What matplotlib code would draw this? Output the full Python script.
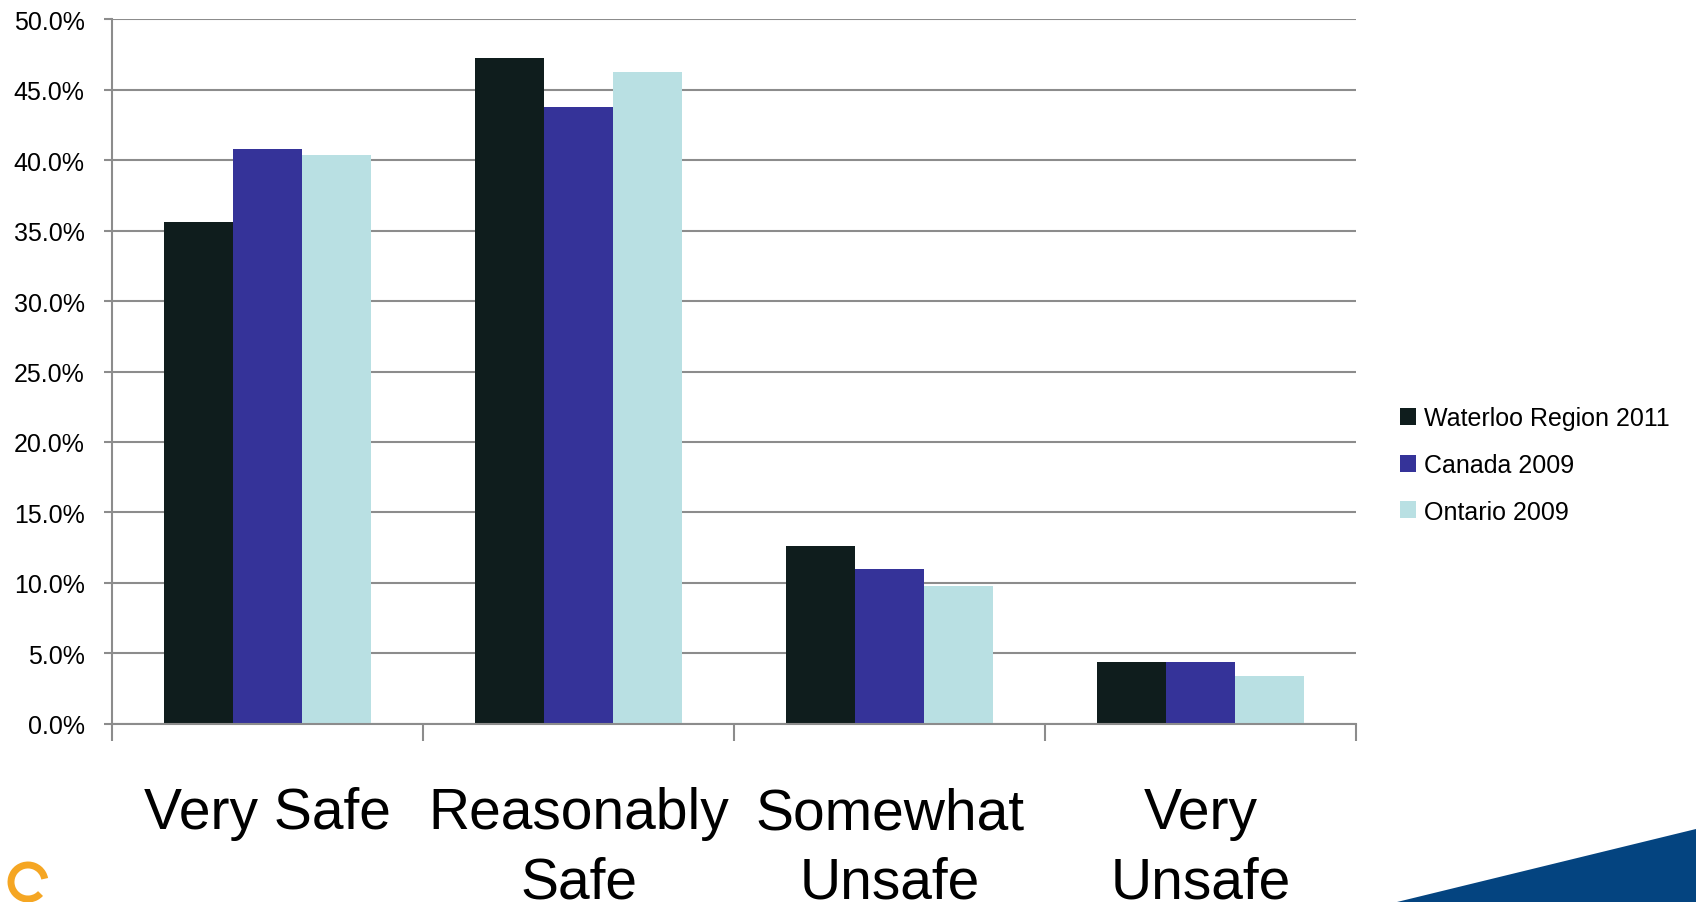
import numpy as np
import matplotlib.pyplot as plt
from matplotlib.patches import Polygon, Arc

plt.rcParams['font.family'] = ['Liberation Sans', 'DejaVu Sans']

# survey answers, percent of respondents
categories = ['Very Safe', 'Reasonably\nSafe', 'Somewhat\nUnsafe', 'Very\nUnsafe']
series_names = ['Waterloo Region 2011', 'Canada 2009', 'Ontario 2009']
waterloo = [35.6, 47.3, 12.6, 4.4]
canada = [40.8, 43.8, 11.0, 4.4]
ontario = [40.4, 46.3, 9.8, 3.4]
colors = ['#0f1d1d', '#353399', '#b9e0e3']

fig = plt.figure(figsize=(16.96, 9.03), dpi=100)
ax = fig.add_axes([0.0663, 0.1976, 0.7332, 0.7797])

x = np.arange(len(categories))
w = 0.222
for i, (vals, name) in enumerate(zip([waterloo, canada, ontario], series_names)):
    ax.bar(x + (i - 1) * w, vals, w, color=colors[i], label=name, zorder=3)

ax.set_xlim(-0.5, 3.5)
ax.set_ylim(0, 50)
ax.set_yticks(np.arange(0, 51, 5))
ax.set_yticklabels(['%.1f%%' % v for v in np.arange(0, 51, 5)], fontsize=18)
ax.grid(axis='y', color='#8c8c8c', linewidth=1.5, zorder=0)
ax.tick_params(axis='y', length=6, width=1.5, color='#8c8c8c', pad=14)

# category labels at centres, tick marks at the boundaries
ax.set_xticks(x)
ax.set_xticklabels(categories, fontsize=41, linespacing=1.37)
ax.tick_params(axis='x', which='major', length=0, pad=45)
ax.set_xticks(np.arange(-0.5, 4, 1), minor=True)
ax.tick_params(axis='x', which='minor', length=12, width=1.5, color='#8c8c8c')

for s in ['top', 'right']:
    ax.spines[s].set_visible(False)
for s in ['left', 'bottom']:
    ax.spines[s].set_color('#8c8c8c')
    ax.spines[s].set_linewidth(1.5)
    ax.spines[s].set_zorder(4)

ax.legend(loc='center left', bbox_to_anchor=(1400 / 1696, 1 - 466 / 903),
          bbox_transform=fig.transFigure, frameon=False, borderpad=0,
          borderaxespad=0, fontsize=18, handlelength=0.65, handleheight=0.65,
          handletextpad=0.3, labelspacing=0.9)

# slide decorations: blue swoosh bottom right, orange logo bottom left
fig.patches.append(Polygon([(1397 / 1696, 0), (1.0, 73 / 903), (1.0, 0)],
                           closed=True, transform=fig.transFigure,
                           facecolor='#044480', edgecolor='none'))
fig.patches.append(Arc((28 / 1696, 20 / 903), 34 / 1696, 34 / 903,
                       theta1=20, theta2=300, transform=fig.transFigure,
                       color='#f5a623', linewidth=5))

fig.savefig('out.png', dpi=100)
